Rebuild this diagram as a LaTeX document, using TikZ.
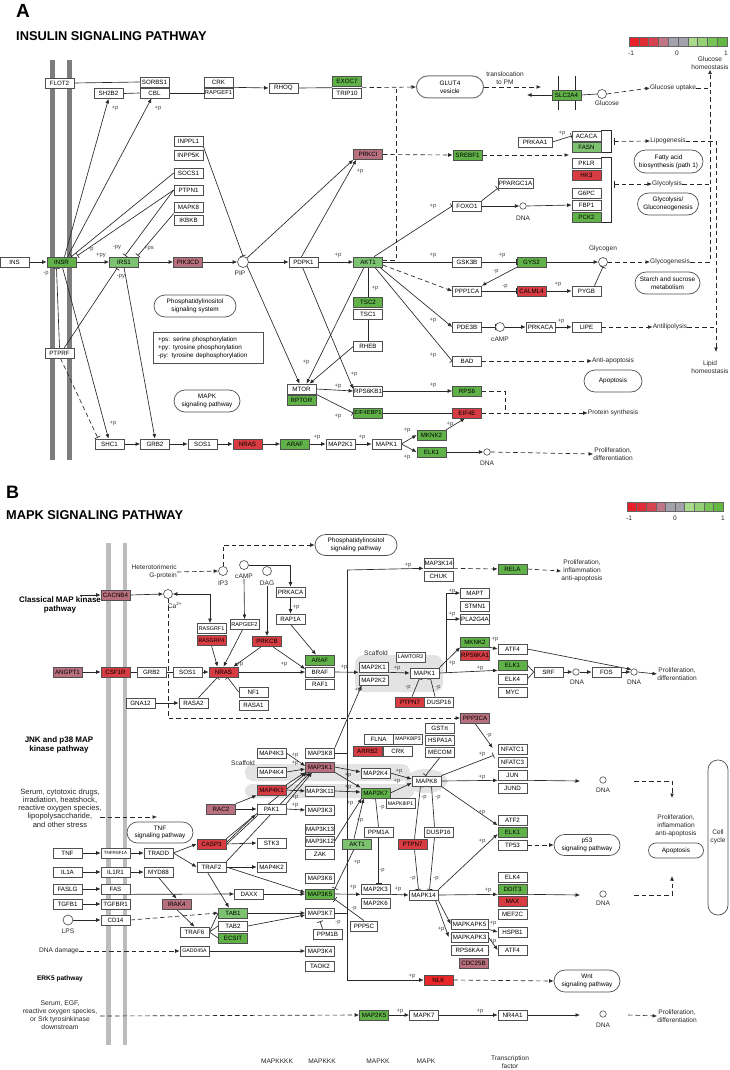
\documentclass[tikz,border=0pt]{standalone}
\usepackage{fontspec}
\setmainfont{Liberation Sans}
\usetikzlibrary{arrows.meta,shapes.misc,calc}
\pgfdeclarelayer{blob}\pgfdeclarelayer{bgl}
\pgfsetlayers{blob,bgl,main}
\definecolor{gD}{RGB}{96,178,72}
\definecolor{gL}{RGB}{124,194,112}
\definecolor{rM}{RGB}{214,60,66}
\definecolor{rB}{RGB}{232,40,40}
\definecolor{mV}{RGB}{184,112,126}
\definecolor{memA}{RGB}{125,125,125}
\definecolor{memB}{RGB}{188,188,188}
\definecolor{lnc}{RGB}{40,40,40}
\definecolor{bdc}{RGB}{80,80,80}
\definecolor{lgA}{RGB}{232,32,42}
\definecolor{lgB}{RGB}{224,44,54}
\definecolor{lgC}{RGB}{214,66,80}
\definecolor{lgD}{RGB}{192,118,132}
\definecolor{lgE}{RGB}{162,162,172}
\definecolor{lgG}{RGB}{170,218,140}
\definecolor{lgH}{RGB}{150,208,118}
\definecolor{lgI}{RGB}{118,194,84}
\definecolor{lgJ}{RGB}{98,184,64}
\newcommand{\plab}[3]{\node[pp] (#1) at (#2) {#3};}
\tikzset{
 box/.style={draw=bdc,line width=0.65pt,fill=white,minimum width=29pt,minimum height=10pt,inner sep=0pt,font=\fontsize{6.2}{7}\selectfont},
 bgD/.style={box,fill=gD}, bgL/.style={box,fill=gL}, bR/.style={box,fill=rM}, bM/.style={box,fill=mV}, bRB/.style={box,fill=rB},
 sm/.style={font=\fontsize{5.4}{6}\selectfont},
 tiny/.style={font=\fontsize{4.5}{5}\selectfont},
 txt/.style={font=\fontsize{6.6}{8}\selectfont,inner sep=0pt,align=center,text=black!85},
 pp/.style={font=\fontsize{5.8}{6}\selectfont,inner sep=0pt,text=black!75},
 cir/.style={circle,draw=bdc,line width=0.65pt,fill=white,minimum size=9pt,inner sep=0pt},
 dnac/.style={circle,draw=bdc,line width=0.6pt,fill=white,minimum size=6.5pt,inner sep=0pt},
 pw/.style={rounded rectangle,draw=bdc,line width=0.7pt,fill=white,inner sep=0pt,align=center,font=\fontsize{6.4}{7.8}\selectfont},
 ln/.style={draw=lnc,line width=0.65pt},
 arr/.style={ln,-{Latex[length=4.5pt,width=3.8pt]}},
 biarr/.style={ln,{Latex[length=4.5pt,width=3.8pt]}-{Latex[length=4.5pt,width=3.8pt]}},
 inh/.style={ln,-{Bar[width=6pt]}},
 dsh/.style={dash pattern=on 4.5pt off 3pt},
 darr/.style={arr,dsh},
 dln/.style={ln,dsh},
 dinh/.style={inh,dsh},
}
\begin{document}
\begin{tikzpicture}[x=1pt,y=-1pt]
\useasboundingbox (0,0) rectangle (730,1070);
\begin{pgfonlayer}{blob}
\fill[white] (0,0) rectangle (730,1070);
\end{pgfonlayer}
% ================= PANEL A =================
\node[font=\fontsize{19}{19}\selectfont\bfseries,anchor=west,inner sep=0] (tA) at (16,11) {A};
\node[font=\fontsize{12.8}{13}\selectfont\bfseries,anchor=west,inner sep=0] (ttA) at (16,36) {INSULIN SIGNALING PATHWAY};
\begin{pgfonlayer}{blob}
\fill[memA] (50,60) rectangle (54.5,460);
\fill[memA] (67,60) rectangle (71.5,460);
\end{pgfonlayer}
\foreach \c [count=\i from 0] in {lgA,lgB,lgC,lgD,lgE,lgE,lgG,lgH,lgI,lgJ}
  \draw[draw=black!60,line width=0.4pt,fill=\c] ({629+\i*9.8},37) rectangle ({629+(\i+1)*9.8},46);
\node[txt] (aLg1) at (631,53) {-1};
\node[txt] (aLg2) at (677,53) {0};
\node[txt] (aLg3) at (726,53) {1};

\node[box] (aFLOT2) at (59.5,83) {FLOT2};
\node[box] (aSORBS1) at (154.5,82) {SORBS1};
\node[box] (aCBL) at (154.5,93) {CBL};
\node[box] (aSH2B2) at (108.5,93.5) {SH2B2};
\node[box] (aCRK) at (218.5,82) {CRK};
\node[box,font=\fontsize{5.8}{6}\selectfont] (aRAPGEF1) at (218.5,93) {RAPGEF1};
\node[box] (aRHOQ) at (283.5,88) {RHOQ};
\node[bgD] (aEXOC7) at (347,81) {EXOC7};
\node[box] (aTRIP10) at (347,93) {TRIP10};
\node[pw,minimum width=67pt,minimum height=22pt,draw=black!55,line width=1pt] (aGLUT) at (450,87) {GLUT4\\vesicle};
\node[txt] (aTPM) at (505,78) {translocation\\to PM};
\node[bgD] (aSLC) at (566.5,95) {SLC2A4};
\node[cir] (aGlc) at (602,94) {};
\node[txt] (aGlcL) at (607,103) {Glucose};
\node[txt] (aGU) at (673,88) {Glucose uptake};
\node[txt] (aGH) at (710,63) {Glucose\\homeostasis};

\node[box] (aINPPL1) at (188.5,141) {INPPL1};
\node[box] (aINPP5K) at (188.5,155) {INPP5K};
\node[box] (aSOCS1) at (188.5,173) {SOCS1};
\node[box] (aPTPN1) at (188.5,190) {PTPN1};
\node[box] (aMAPK8) at (188.5,207) {MAPK8};
\node[box] (aIKBKB) at (188.5,220) {IKBKB};
\node[bM] (aPRKCI) at (368,154.5) {PRKCI};
\node[bgD] (aSREBF1) at (467.5,155) {SREBF1};
\node[box,minimum width=34pt] (aPRKAA1) at (535,142) {PRKAA1};
\node[box] (aACACA) at (586.5,136) {ACACA};
\node[bgL] (aFASN) at (586.5,147) {FASN};
\node[box] (aPKLR) at (586.5,163) {PKLR};
\node[bR] (aHK3) at (586.5,175) {HK3};
\node[box] (aG6PC) at (586.5,193) {G6PC};
\node[box] (aFBP1) at (586.5,205) {FBP1};
\node[bgD] (aPCK2) at (586.5,217) {PCK2};
\node[txt] (aLipo) at (668,141) {Lipogenesis};
\node[txt] (aGlyc) at (667,184) {Glycolysis};
\node[pw,minimum width=69pt,minimum height=23pt] (aFAB) at (668.5,161.5) {Fatty acid\\biosynthesis (path 1)};
\node[pw,minimum width=61pt,minimum height=22pt] (aGG2) at (668,204) {Glycolysis/\\Gluconeogenesis};
\node[box,minimum width=35pt] (aPPARGC1A) at (515.5,183) {PPARGC1A};
\node[box] (aFOXO1) at (467,206) {FOXO1};
\node[dnac] (aDNA1) at (523,206) {};
\node[txt] (aDNA1L) at (523,218) {DNA};

\node[box] (aINS) at (14.5,262) {INS};
\node[bgD] (aINSR) at (61.5,262) {INSR};
\node[bgL] (aIRS1) at (124,262) {IRS1};
\node[bM] (aPIK3CD) at (188,262) {PIK3CD};
\node[cir,minimum size=11pt] (aPIP) at (243,262) {};
\node[txt] (aPIPL) at (240,273) {PIP};
\node[box] (aPDPK1) at (303.5,262) {PDPK1};
\node[bgL] (aAKT1) at (368,262) {AKT1};
\node[box] (aGSK3B) at (467,262) {GSK3B};
\node[bgD] (aGYS2) at (531.5,262) {GYS2};
\node[cir] (aGlyg) at (603,262) {};
\node[txt] (aGlygL) at (603,249) {Glycogen};
\node[txt] (aGG) at (670,262) {Glycogenesis};
\node[box] (aPPP1CA) at (467,291) {PPP1CA};
\node[bR] (aCALML4) at (531.5,291) {CALML4};
\node[box] (aPYGB) at (586.5,291) {PYGB};
\node[pw,minimum width=65pt,minimum height=22pt] (aSSM) at (667.5,283) {Starch and sucrose\\metabolism};
\node[bgD] (aTSC2) at (368,302.5) {TSC2};
\node[box] (aTSC1) at (368,314) {TSC1};
\node[pw,minimum width=82pt,minimum height=22pt] (aPSS) at (195,306) {Phosphatidylinositol\\signaling system};
\node[box] (aPDE3B) at (467,327) {PDE3B};
\node[cir] (acAMP) at (500,327) {};
\node[txt] (acAMPL) at (500,339) {cAMP};
\node[box] (aPRKACA) at (540.5,327) {PRKACA};
\node[box] (aLIPE) at (586.5,327) {LIPE};
\node[txt] (aAL) at (670,327) {Antilipolysis};
\node[draw=bdc,line width=0.65pt,fill=white,inner xsep=5pt,inner ysep=3pt,text width=100pt,minimum height=31pt,align=left,font=\fontsize{6.3}{8}\selectfont] (aLEG) at (208,347.5) {+ps: serine phosphorylation\\+py: tyrosine phosphorylation\\-py: tyrosine dephosphorylation};
\node[box] (aRHEB) at (368,346.5) {RHEB};
\node[box] (aPTPRF) at (59.5,353) {PTPRF};
\node[box] (aBAD) at (467,361) {BAD};
\node[txt] (aAA) at (613,361) {Anti-apoptosis};
\node[txt] (aLH) at (710,367) {Lipid\\homeostasis};
\node[pw,minimum width=58pt,minimum height=22pt] (aAPO) at (613,381) {Apoptosis};
\node[box] (aMTOR) at (301.5,389) {MTOR};
\node[bgD] (aRPTOR) at (301.5,400) {RPTOR};
\node[box] (aRPS6KB1) at (368,391) {RPS6KB1};
\node[bgD] (aRPS6) at (467,391) {RPS6};
\node[pw,minimum width=66pt,minimum height=22pt] (aMSP) at (207,401) {MAPK\\signaling pathway};
\node[bgD,font=\fontsize{5.8}{6}\selectfont] (aEIF4EBP1) at (368,413) {EIF4EBP1};
\node[bR] (aEIF4E) at (467,413) {EIF4E};
\node[txt] (aPS) at (613,413) {Protein synthesis};
\node[bgD] (aMKNK2) at (431.5,435) {MKNK2};
\node[box] (aSHC1) at (109.5,444) {SHC1};
\node[box] (aGRB2) at (155,444) {GRB2};
\node[box] (aSOS1) at (202.5,444) {SOS1};
\node[bR] (aNRAS) at (247.5,444) {NRAS};
\node[bgD] (aARAF) at (295,444) {ARAF};
\node[box] (aMAP2K1) at (340.5,444) {MAP2K1};
\node[box] (aMAPK1) at (386.5,444) {MAPK1};
\node[bgD] (aELK1) at (431.5,452) {ELK1};
\node[dnac] (aDNA2) at (487,452) {};
\node[txt] (aDNA2L) at (487,463) {DNA};
\node[txt] (aPD) at (613,454) {Proliferation,\\differentiation};

\plab{pa1}{115,108}{+p}\plab{pa2}{158,108}{+p}\plab{pa3}{91,250}{-p}\plab{pa4}{101,255}{+py}
\plab{pa5}{117,248}{-py}\plab{pa6}{149,248}{+ps}\plab{pa7}{46,274}{-p}\plab{pa8}{121,277}{-py}
\plab{pa9}{113,423}{+p}\plab{pa10}{338,255}{+p}\plab{pa11}{360,171}{+p}\plab{pa12}{433,255}{+p}
\plab{pa13}{502,255}{+p}\plab{pa14}{496,272}{-p}\plab{pa15}{505,287}{-p}\plab{pa16}{558,284}{+p}
\plab{pa17}{433,206}{+p}\plab{pa18}{562,133}{+p}\plab{pa19}{375,288}{+p}\plab{pa20}{433,320}{+p}
\plab{pa21}{433,355}{+p}\plab{pa22}{561,321}{+p}\plab{pa23}{306,362}{+p}\plab{pa24}{354,374}{+p}
\plab{pa25}{338,386}{+p}\plab{pa26}{338,416}{+p}\plab{pa27}{433,385}{+p}\plab{pa28}{317,437}{+p}
\plab{pa29}{362,437}{+p}\plab{pa30}{407,430}{+p}\plab{pa31}{450,424}{+p}\plab{pa32}{407,457}{+p}

\coordinate (aj1) at (396,87);
\coordinate (aTL) at (541,87);
\coordinate (aSLCo) at (527,95);
\coordinate (aS1) at (569,155);
\coordinate (aPSj) at (505,413);

\begin{pgfonlayer}{bgl}
\draw[ln] (558,76) -- (558,110);
\draw[ln] (575,76) -- (575,110);
\draw[ln] (aFLOT2.east) -- (aSORBS1.west);
\draw[ln] (aSH2B2.east) -- (aCBL.west);
\draw[ln] (aCBL.east) -- (aRAPGEF1.west);
\draw[arr] (aCRK.south east) -- (aRHOQ.west);
\draw[ln] (aRHOQ.east) -- (aTRIP10.north west);
\draw[darr] (aTRIP10.north east) -- (aGLUT.west);
\draw[dln] ($(aAKT1.east)+(0,-2)$) -| (aj1);
\draw[darr] (aGLUT.east) -- (aTL);
\draw[arr] (aSLC.west) -- (aSLCo);
\draw[ln] (aSLC.east) -- (aGlc.west);
\draw[darr] (aGlc.east) -- (aGU.west);
\draw[dln] (aGU.east) -- (aGU.east -| aGH.south);
\draw[darr] (aGG.east) -| (aGH.south);
\draw[dln] (aGlyc.east) -- (aGlyc.east -| aGH.south);
\draw[darr] (aLipo.east) -| (716,352);
\draw[dln] (aAL.east) -- (716,327);
\draw[darr] (aPRKCI.east) -- (aSREBF1.west);
\draw[darr] (aSREBF1.east) -- (aS1);
\draw[inh] (aPRKAA1.east) -- (aACACA.west);
\draw[ln] (aACACA.north east) -- ++(10,0) |- (aFASN.south east);
\draw[darr] (614,141.5) -- (aLipo.west);
\draw[ln] (614,138) -- (614,145);
\draw[ln] (aPKLR.north east) -- ++(10,0) |- (aPCK2.south east);
\draw[darr] (614,184) -- (aGlyc.west);
\draw[ln] (614,180.5) -- (614,187.5);
\draw[arr] (aFOXO1.east) -- (aDNA1.west);
\draw[arr] (aDNA1.east) -- (aFBP1.west);
\draw[inh] (aFOXO1.north east) -- (aPPARGC1A.south west);
\draw[inh] ($(aAKT1.north)+(6,0)$) -- (aFOXO1.west);
\draw[arr] (aINS.east) -- (aINSR.west);
\draw[arr] (aINSR.east) -- (aIRS1.west);
\draw[arr] (aIRS1.east) -- (aPIK3CD.west);
\draw[arr] (aPIK3CD.east) -- (aPIP.west);
\draw[arr] (aPIP.east) -- (aPDPK1.west);
\draw[arr] (aPDPK1.east) -- (aAKT1.west);
\draw[inh] (aAKT1.east) -- (aGSK3B.west);
\draw[inh] (aGSK3B.east) -- (aGYS2.west);
\draw[arr] (aGYS2.east) -- (aGlyg.west);
\draw[darr] (aGlyg.east) -- (aGG.west);
\draw[arr] (aGYS2.south west) -- (aPPP1CA.north east);
\draw[inh] (aPPP1CA.east) -- (aCALML4.west);
\draw[arr] (aCALML4.east) -- (aPYGB.west);
\draw[inh] ($(aPYGB.north)+(8,0)$) -- (aGlyg.south);
\draw[darr] ($(aAKT1.east)+(0,3)$) -- (aPPP1CA.west);
\draw[arr] ($(aAKT1.south east)+(-3,0)$) -- (aPDE3B.west);
\draw[inh] ($(aAKT1.south east)+(-8,0)$) -- (aBAD.west);
\draw[inh] (aAKT1.south) -- (aTSC2.north);
\draw[inh] (aTSC1.south) -- (aRHEB.north);
\draw[inh] (aPDE3B.east) -- (acAMP.west);
\draw[arr] (acAMP.east) -- (aPRKACA.west);
\draw[arr] (aPRKACA.east) -- (aLIPE.west);
\draw[darr] (aLIPE.east) -- (aAL.west);
\draw[darr] (aBAD.east) -- (aAA.west);
\draw[arr] (aRHEB.west) -- ($(aMTOR.north)+(8,0)$);
\draw[arr] ($(aAKT1.south)+(-4,0)$) -- ($(aMTOR.north)+(5,0)$);
\draw[arr] (aPIP.south east) -- ($(aMTOR.north)+(-2,0)$);
\draw[arr] ($(aPDPK1.south)+(-1,0)$) -- ($(aRPS6KB1.west)+(0,-2)$);
\draw[arr] (aPIP.north east) -- (aPRKCI.south west);
\draw[arr] ($(aPDPK1.north)+(-2,0)$) -- ($(aPRKCI.south west)+(3,0)$);
\draw[inh] (aINPPL1.south east) -- (aPIP.north);
\draw[arr] (aMTOR.east) -- (aRPS6KB1.west);
\draw[inh] (aMTOR.south east) -- (aEIF4EBP1.west);
\draw[arr] (aRPS6KB1.east) -- (aRPS6.west);
\draw[inh] (aEIF4EBP1.east) -- (aEIF4E.west);
\draw[dln] (aRPS6.east) -| (aPSj);
\draw[darr] (aEIF4E.east) -- (aPS.west);
\draw[arr] (aSHC1.east) -- (aGRB2.west);
\draw[arr] (aGRB2.east) -- (aSOS1.west);
\draw[arr] (aSOS1.east) -- (aNRAS.west);
\draw[arr] (aNRAS.east) -- (aARAF.west);
\draw[arr] (aARAF.east) -- (aMAP2K1.west);
\draw[arr] (aMAP2K1.east) -- (aMAPK1.west);
\draw[arr] (aMAPK1.east) -- (aMKNK2.west);
\draw[arr] (aMAPK1.east) -- (aELK1.west);
\draw[arr] (aMKNK2.north east) -- ($(aEIF4E.south)+(-2,0)$);
\draw[arr] (aELK1.east) -- (aDNA2.west);
\draw[darr] (aDNA2.east) -- (aPD.west);
\draw[arr] ($(aINSR.north)+(3,0)$) -- (aSH2B2.south);
\draw[arr] ($(aINSR.north)+(6,0)$) -- ($(aCBL.south)+(-3,0)$);
\draw[inh] (aSOCS1.west) -- ($(aINSR.north east)+(-5,0)$);
\draw[inh] (aPTPN1.west) -- ($(aINSR.north east)+(1,-1)$);
\draw[inh] (aPTPN1.west) -- ($(aIRS1.north)+(1,-1)$);
\draw[inh] ($(aMAPK8.south west)!0.5!(aIKBKB.north west)$) -- ($(aIRS1.north east)+(-1,-1)$);
\draw[inh] (aPTPRF.north) -- ($(aINSR.south)+(-5,1)$);
\draw[inh] ($(aPTPRF.north east)+(-10,0)$) -- ($(aIRS1.south)+(-7,1)$);
\draw[arr] ($(aINSR.south)+(1,0)$) -- ($(aSHC1.north)+(-1,0)$);
\draw[dinh] ($(aPTPRF.south)+(1,0)$) -- ($(aSHC1.north west)+(3,-1)$);
\draw[arr] (aIRS1.south) -- (aGRB2.north);
\end{pgfonlayer}

% ================= PANEL B =================
\node[font=\fontsize{18}{18}\selectfont\bfseries,anchor=west,inner sep=0] (tB) at (6,492) {B};
\node[font=\fontsize{12.8}{13}\selectfont\bfseries,anchor=west,inner sep=0] (ttB) at (6,515) {MAPK SIGNALING PATHWAY};
\begin{pgfonlayer}{blob}
\fill[memB] (106,543) rectangle (110.5,1045);
\fill[memB] (122.5,543) rectangle (127,1045);
\fill[gray!22,rounded corners=9pt] (355,655) rectangle (443,692);
\fill[gray!22,rounded corners=8pt] (245,764) rectangle (410,781);
\fill[gray!22] (426,781) ellipse (21pt and 12pt);
\fill[gray!22,rounded corners=7pt] (245,784) rectangle (414,798);
\end{pgfonlayer}
\foreach \c [count=\i from 0] in {lgA,lgB,lgC,lgD,lgE,lgE,lgG,lgH,lgI,lgJ}
  \draw[draw=black!60,line width=0.4pt,fill=\c] ({627+\i*9.6},502) rectangle ({627+(\i+1)*9.6},511);
\node[txt] (bLg1) at (629,518) {-1};
\node[txt] (bLg2) at (675,518) {0};
\node[txt] (bLg3) at (723,518) {1};

\node[pw,minimum width=82pt,minimum height=21pt] (bPSP) at (356,545) {Phosphatidylinositol\\signaling pathway};
\node[txt,anchor=east,align=right] (bHG) at (177,572) {Heterotorimeric\\G-protein};
\node[cir] (bIP3) at (223,571) {};
\node[txt] (bIP3L) at (223,583) {IP3};
\node[cir] (bcAMP) at (244,565) {};
\node[txt] (bcAMPL) at (244,576) {cAMP};
\node[cir] (bDAG) at (267,571) {};
\node[txt] (bDAGL) at (267,583) {DAG};
\node[bM] (bCACNB4) at (115.5,595) {CACNB4};
\node[font=\fontsize{8}{9.2}\selectfont\bfseries,align=center,inner sep=0] (bCMK) at (60,605) {Classical MAP kinase\\pathway};
\node[cir] (bCa) at (168,594) {};
\node[txt] (bCaL) at (175,605) {Ca\textsuperscript{2+}};
\node[box] (bPRKACA) at (290.5,592) {PRKACA};
\node[box] (bRAP1A) at (290.5,619) {RAP1A};
\node[box,font=\fontsize{5.6}{6}\selectfont] (bRAPGEF2) at (244.5,624.5) {RAPGEF2};
\node[box,sm] (bRASGRF1) at (211.5,628.5) {RASGRF1};
\node[bR,sm] (bRASGRP4) at (211.5,640.5) {RASGRP4};
\node[bR] (bPRKCB) at (267,641.5) {PRKCB};
\node[bgD] (bARAF) at (320,660) {ARAF};
\node[box] (bBRAF) at (320,672) {BRAF};
\node[box] (bRAF1) at (320,684) {RAF1};
\node[bM] (bANGPT1) at (67.5,672) {ANGPT1};
\node[bR] (bCSF1R) at (115.5,672) {CSF1R};
\node[box] (bGRB2) at (151.5,672) {GRB2};
\node[box] (bSOS1) at (187.5,672) {SOS1};
\node[bR] (bNRAS) at (223.5,672) {NRAS};
\node[box] (bNF1) at (253.5,692) {NF1};
\node[box] (bRASA1) at (253.5,705) {RASA1};
\node[box] (bRASA2) at (193.5,703) {RASA2};
\node[box] (bGNA12) at (140.5,703) {GNA12};
\node[box] (bMAP3K14) at (438.5,563) {MAP3K14};
\node[box] (bCHUK) at (438.5,576) {CHUK};
\node[bgD] (bRELA) at (512.5,569) {RELA};
\node[txt] (bPIA) at (582,571) {Proliferation,\\inflammation\\anti-apoptosis};
\node[box] (bMAPT) at (475,593) {MAPT};
\node[box] (bSTMN1) at (475,606) {STMN1};
\node[box] (bPLA2G4A) at (475,619) {PLA2G4A};
\node[bgD] (bMKNK2) at (475,642) {MKNK2};
\node[bR] (bRPS6KA1) at (475,655) {RPS6KA1};
\node[box] (bATF4) at (512.5,649) {ATF4};
\node[bgD] (bELK1) at (512.5,665) {ELK1};
\node[box] (bELK4) at (512.5,679) {ELK4};
\node[box] (bMYC) at (512.5,692) {MYC};
\node[box] (bSRF) at (548.5,672) {SRF};
\node[dnac] (bDNA1) at (576,672) {};
\node[txt] (bDNA1L) at (577,682) {DNA};
\node[box] (bFOS) at (606.5,672) {FOS};
\node[dnac] (bDNA2) at (634,672) {};
\node[txt] (bDNA2L) at (634,682) {DNA};
\node[txt] (bPD1) at (677,674) {Proliferation,\\differentiation};
\node[txt] (bScf1) at (376,653) {Scaffold};
\node[box] (bMAP2K1) at (373.5,667) {MAP2K1};
\node[box] (bMAP2K2) at (373.5,680) {MAP2K2};
\node[box,sm] (bLAMTOR3) at (410.5,657) {LAMTOR3};
\node[box] (bMAPK1) at (424.5,673) {MAPK1};
\node[bR] (bPTPN7) at (410,702) {PTPN7};
\node[box] (bDUSP16) at (439,702) {DUSP16};
\node[bM] (bPPP3CA) at (475,718) {PPP3CA};
\node[box] (bGST) at (440,728) {GSTπ};
\node[box] (bHSPA1A) at (440,740) {HSPA1A};
\node[box] (bMECOM) at (440,752) {MECOM};
\node[box] (bFLNA) at (378.5,739) {FLNA};
\node[box,font=\fontsize{5.2}{6}\selectfont] (bMAPK8IP3) at (408,739) {MAPK8IP3};
\node[bR] (bARRB2) at (367.5,751) {ARRB2};
\node[box] (bCRK) at (398,751) {CRK};
\node[box] (bNFATC1) at (512.5,749) {NFATC1};
\node[box] (bNFATC3) at (512.5,762) {NFATC3};
\node[box] (bJUN) at (512.5,775) {JUN};
\node[box] (bJUND) at (512.5,788) {JUND};
\node[box] (bMAPK8) at (426.5,781) {MAPK8};
\node[dnac] (bDNA3) at (603,780) {};
\node[txt] (bDNA3L) at (603,790) {DNA};
\node[txt] (bScf2) at (243,763) {Scaffold};
\node[box] (bMAP4K3) at (271.5,753) {MAP4K3};
\node[box] (bMAP4K4) at (271.5,772) {MAP4K4};
\node[bR] (bMAP4K1) at (271.5,790) {MAP4K1};
\node[box] (bPAK1) at (271.5,809) {PAK1};
\node[box] (bSTK3) at (271.5,843) {STK3};
\node[box] (bMAP4K2) at (271.5,867) {MAP4K2};
\node[bM] (bRAC2) at (221,809) {RAC2};
\node[box] (bMAP3K8) at (320,753) {MAP3K8};
\node[bM] (bMAP3K1) at (320,767) {MAP3K1};
\node[box] (bMAP3K11) at (320,791) {MAP3K11};
\node[box] (bMAP3K3) at (320,810) {MAP3K3};
\node[box] (bMAP3K13) at (320,829) {MAP3K13};
\node[box] (bMAP3K12) at (320,841) {MAP3K12};
\node[box] (bZAK) at (320,854) {ZAK};
\node[box] (bMAP3K6) at (320,878) {MAP3K6};
\node[bgD] (bMAP3K5) at (320,894) {MAP3K5};
\node[box] (bMAP3K7) at (320,913) {MAP3K7};
\node[box] (bMAP3K4) at (320,951) {MAP3K4};
\node[box] (bTAOK2) at (320,966) {TAOK2};
\node[box] (bMAP2K4) at (375.5,773) {MAP2K4};
\node[bgD] (bMAP2K7) at (375.5,793) {MAP2K7};
\node[box,font=\fontsize{5.2}{6}\selectfont] (bMAPK8IP1) at (400.5,803.5) {MAPK8IP1};
\node[box] (bPPM1A) at (378.5,832) {PPM1A};
\node[box] (bDUSP16b) at (438.5,832) {DUSP16};
\node[bR] (bPTPN7b) at (412.5,844) {PTPN7};
\node[bgL] (bAKT1) at (357,844) {AKT1};
\node[box] (bATF2) at (512.5,820) {ATF2};
\node[bgD] (bELK1b) at (512.5,832) {ELK1};
\node[box] (bTP53) at (512.5,845) {TP53};
\node[pw,minimum width=66pt,minimum height=21pt] (bP53) at (587,845) {p53\\signaling pathway};
\node[txt] (bPIA2) at (676,826) {Proliferation,\\inflammation\\anti-apoptosis};
\node[pw,minimum width=55pt,minimum height=15pt] (bAPO) at (676,850.5) {Apoptosis};
\node[draw=bdc,line width=0.7pt,rounded corners=9.8pt,minimum width=20pt,minimum height=155pt,inner sep=0pt] (bCC) at (718,837.5) {};
\node[txt] (bCCL) at (718,837) {Cell\\cycle};
\node[font=\fontsize{8}{9.2}\selectfont\bfseries,align=center,inner sep=0] (bJNK) at (59,745) {JNK and p38 MAP\\kinase pathway};
\node[txt,font=\fontsize{7.6}{8.2}\selectfont] (bSER) at (60,808) {Serum, cytotoxic drugs,\\irradiation, heatshock,\\reactive oxygen species,\\lipopolysaccharide,\\and other stress};
\node[pw,minimum width=66pt,minimum height=21pt] (bTNFP) at (160,832.5) {TNF\\signaling pathway};
\node[box] (bTNF) at (67.5,853) {TNF};
\node[box,tiny] (bTNFRSF1A) at (115.5,853) {TNFRSF1A};
\node[box] (bTRADD) at (158.5,853) {TRADD};
\node[box] (bIL1A) at (67.5,872) {IL1A};
\node[box] (bIL1R1) at (115.5,872) {IL1R1};
\node[box] (bMYD88) at (158.5,872) {MYD88};
\node[box] (bFASLG) at (67.5,889) {FASLG};
\node[box] (bFAS) at (115.5,889) {FAS};
\node[box] (bTGFB1) at (67.5,904) {TGFB1};
\node[box] (bTGFBR1) at (115.5,904) {TGFBR1};
\node[cir,minimum size=10pt] (bLPS) at (68,920) {};
\node[txt] (bLPSL) at (68,931) {LPS};
\node[box] (bCD14) at (115.5,920) {CD14};
\node[bR] (bCASP3) at (211.5,844) {CASP3};
\node[box] (bTRAF2) at (211.5,867) {TRAF2};
\node[box] (bDAXX) at (249,894) {DAXX};
\node[bM] (bIRAK4) at (176.5,904) {IRAK4};
\node[bgL] (bTAB1) at (233,913) {TAB1};
\node[box] (bTAB2) at (233,926) {TAB2};
\node[bgD] (bECSIT) at (233,938) {ECSIT};
\node[box] (bTRAF6) at (194.5,932) {TRAF6};
\node[box] (bPPM1B) at (327.5,934) {PPM1B};
\node[box] (bMAP2K3) at (375.5,889) {MAP2K3};
\node[box] (bMAP2K6) at (375.5,903.5) {MAP2K6};
\node[box,minimum width=27pt] (bPPP5C) at (364,926) {PPP5C};
\node[box] (bMAPK14) at (423.5,895) {MAPK14};
\node[box] (bELK4b) at (512.5,877) {ELK4};
\node[bgD] (bDDIT3) at (512.5,889) {DDIT3};
\node[bR] (bMAX) at (512.5,901) {MAX};
\node[box] (bMEF2C) at (512.5,914) {MEF2C};
\node[dnac] (bDNA4) at (603,894) {};
\node[txt] (bDNA4L) at (603,903) {DNA};
\node[box,minimum width=37pt] (bMAPKAPK5) at (469.5,924) {MAPKAPK5};
\node[box,minimum width=37pt] (bMAPKAPK3) at (469.5,937) {MAPKAPK3};
\node[box,minimum width=37pt] (bRPS6KA4) at (469.5,950) {RPS6KA4};
\node[bM] (bCDC25B) at (473.5,963.5) {CDC25B};
\node[box] (bHSPB1) at (512.5,932) {HSPB1};
\node[box] (bATF4b) at (512.5,950) {ATF4};
\node[box,font=\fontsize{5.2}{6}\selectfont] (bGADD45A) at (194.5,951) {GADD45A};
\node[txt] (bDD) at (59,951) {DNA damage};
\node[bRB] (bNLK) at (438.5,980) {NLK};
\node[pw,minimum width=66pt,minimum height=22pt] (bWNT) at (587,981) {Wnt\\signaling pathway};
\node[font=\fontsize{6.6}{7}\selectfont\bfseries,inner sep=0] (bERK5) at (60,979) {ERK5 pathway};
\node[txt,font=\fontsize{6.8}{8}\selectfont] (bSEGF) at (60,1015) {Serum, EGF,\\reactive oxygen species,\\or Srk tyrosinkinase\\downstream};
\node[bgD] (bMAP2K5) at (374,1015) {MAP2K5};
\node[box] (bMAPK7) at (424,1015) {MAPK7};
\node[box] (bNR4A1) at (512.5,1015) {NR4A1};
\node[dnac] (bDNA5) at (603,1014) {};
\node[txt] (bDNA5L) at (603,1025) {DNA};
\node[txt] (bPD2) at (677,1016) {Proliferation,\\differentiation};
\node[txt] (bL1) at (277,1061) {MAPKKKK};
\node[txt] (bL2) at (322,1061) {MAPKKK};
\node[txt] (bL3) at (378,1061) {MAPKK};
\node[txt] (bL4) at (426,1061) {MAPK};
\node[txt] (bL5) at (510,1062) {Transcription\\factor};

\plab{pb1}{296,607}{+p}\plab{pb2}{240,664}{+p}\plab{pb3}{284,664}{+p}\plab{pb4}{344,667}{+p}
\plab{pb5}{358,690}{+p}\plab{pb6}{408,565}{+p}\plab{pb7}{452,591}{+p}\plab{pb8}{452,614}{+p}
\plab{pb9}{495,639}{+p}\plab{pb10}{452,663}{+p}\plab{pb11}{480,668}{+p}\plab{pb12}{397,668}{+p}
\plab{pb13}{408,688}{-p}\plab{pb14}{438,688}{-p}\plab{pb15}{489,736}{-p}\plab{pb16}{482,754}{+p}
\plab{pb17}{399,771}{+p}\plab{pb18}{397,781}{+p}\plab{pb19}{482,777}{+p}\plab{pb20}{482,812}{+p}
\plab{pb21}{482,841}{+p}\plab{pb22}{424,798}{-p}\plab{pb23}{438,798}{-p}\plab{pb24}{382,808}{-p}
\plab{pb25}{382,871}{-p}\plab{pb26}{413,879}{-p}\plab{pb27}{436,879}{-p}\plab{pb28}{398,889}{+p}
\plab{pb29}{488,890}{+p}\plab{pb30}{441,929}{+p}\plab{pb31}{493,923}{+p}\plab{pb32}{493,941}{+p}
\plab{pb33}{412,976}{+p}\plab{pb34}{400,1011}{+p}\plab{pb35}{480,1011}{+p}\plab{pb36}{295,755}{+p}
\plab{pb37}{295,763}{+p}\plab{pb38}{295,797}{+p}\plab{pb39}{295,805}{+p}\plab{pb40}{348,775}{+p}
\plab{pb41}{348,787}{+p}\plab{pb42}{350,803}{+p}\plab{pb43}{360,820}{+p}\plab{pb44}{357,862}{+p}
\plab{pb45}{353,887}{+p}\plab{pb46}{354,909}{-p}\plab{pb47}{338,923}{-p}

\coordinate (bCin) at (80,595);
\coordinate (bVT) at (347,570);
\coordinate (bVB) at (347,980);
\coordinate (bA1) at (580,781);
\coordinate (bD1) at (634,781);
\coordinate (bD3) at (672,798);
\coordinate (bA2) at (580,895);
\coordinate (bD4) at (634,895);
\coordinate (bD5) at (672,876);
\coordinate (bA3) at (580,1015);
\coordinate (bD6) at (628,1015);
\coordinate (bS1) at (100,817);
\coordinate (bS2) at (157,817);
\coordinate (bS3) at (100,1016);

\begin{pgfonlayer}{bgl}
\draw[darr] (bHG.east) -- (bIP3.west);
\draw[darr] (bIP3.north) |- (bPSP.west);
\draw[arr] (bcAMP.east) -| (bPRKACA.north);
\draw[arr] (bcAMPL.south) -- (bRAPGEF2.north);
\draw[arr] (bDAGL.south) -- (bPRKCB.north);
\draw[arr] (bPRKACA.south) -- (bRAP1A.north);
\draw[arr] (bRAP1A.south) -- ($(bARAF.north)+(-4,0)$);
\draw[arr] (bCin) -- (bCACNB4.west);
\draw[arr] (bCACNB4.east) -- (bCa.west);
\draw[biarr] (bCa.east) -| ($(bRASGRF1.north)+(-1.5,0)$);
\draw[arr] (bRASGRP4.south) -- ($(bNRAS.north)+(-6,0)$);
\draw[arr] ($(bRAPGEF2.south)+(-2,0)$) -- (bNRAS.north);
\draw[arr] ($(bPRKCB.south)+(-6,0)$) -- ($(bNRAS.north east)+(-5,0)$);
\draw[arr] ($(bPRKCB.south)+(6,0)$) -- ($(bBRAF.west)+(0,-3)$);
\draw[arr] (bANGPT1.east) -- (bCSF1R.west);
\draw[ln] (bCSF1R.east) -- (bGRB2.west);
\draw[ln] (bGRB2.east) -- (bSOS1.west);
\draw[arr] (bSOS1.east) -- (bNRAS.west);
\draw[arr] (bNRAS.east) -- (bBRAF.west);
\draw[arr] (bBRAF.east) -- (bMAP2K1.south west);
\draw[inh] (bNF1.west) -- ($(bNRAS.south)+(4,0)$);
\draw[inh] ($(bRASA2.north)+(5,0)$) -- ($(bNRAS.south)+(-6,0)$);
\draw[arr] (bGNA12.east) -- (bRASA2.west);
\draw[darr] (bCa.south) |- (bPPP3CA.west);
\draw[ln] (bVT) -- (bVB);
\draw[arr] (bVT) -- (bMAP3K14.south west);
\draw[arr] (bVB) -- (bNLK.west);
\draw[ln] (bMAP3K8.east) -- (bMAP3K8.east -| bVT);
\draw[ln] (bMAP3K7.east) -- (bMAP3K7.east -| bVT);
\draw[arr] (bMAP3K8.north east) -- ($(bMAP2K2.south west)+(3,0)$);
\draw[arr] (bMAP2K1.south east) -- (bMAPK1.west);
\draw[arr] (bMAPK1.east) -- (bELK1.south west);
\draw[arr] ($(bMAPK1.east)+(7,0)$) |- (bMAPT.west);
\draw[arr] ($(bMAPK1.east)+(7,0)$) |- (bPLA2G4A.west);
\draw[arr] (bMAPK1.north east) -- (bMKNK2.south west);
\draw[arr] (bMKNK2.south east) -- (bATF4.west);
\draw[arr] (bATF4.east) -- (bDNA2.north west);
\draw[ln] (bELK1.east) -- (bSRF.west);
\draw[ln] (bELK4.east) -- (bSRF.west);
\draw[arr] (bSRF.east) -- (bDNA1.west);
\draw[arr] (bDNA1.east) -- (bFOS.west);
\draw[arr] (bFOS.east) -- (bDNA2.west);
\draw[arr] (bDNA2.east) -- (bPD1.west);
\draw[inh] ($(bPTPN7.north)+(2,0)$) -- ($(bMAPK1.south)+(-5,0)$);
\draw[inh] ($(bDUSP16.north)+(-4,0)$) -- ($(bMAPK1.south)+(6,0)$);
\draw[darr] (bMAP3K14.south east) -- (bRELA.west);
\draw[darr] (bRELA.east) -- (bPIA.west);
\draw[arr] (bPPP3CA.south) -- ($(bNFATC1.west)+(-5,-1)$);
\draw[inh] (bMAPK8.north east) -- ($(bNFATC1.south west)+(-4,1)$);
\draw[arr] (bMAPK8.east) -- (bJUN.south west);
\draw[arr] (bJUN.south east) -- (bA1);
\draw[darr] (bD1) -| (bD3);
\draw[arr] (bMAPK8.south east) -- (bATF2.south west);
\draw[darr] (bTP53.east) -- (bP53.west);
\draw[inh] (bMECOM.south) -- ($(bMAPK8.north)+(-1,0)$);
\draw[arr] (bMAP2K4.east) -- ($(bMAPK8.west)+(0,-2)$);
\draw[arr] (bMAP2K7.east) -- ($(bMAPK8.west)+(0,2)$);
\draw[inh] ($(bPTPN7b.north)+(2,0)$) -- ($(bMAPK8.south)+(-6,0)$);
\draw[inh] ($(bDUSP16b.north)+(-4,0)$) -- ($(bMAPK8.south)+(5,0)$);
\draw[inh] ($(bPTPN7b.south)+(2,0)$) -- ($(bMAPK14.north)+(-5,0)$);
\draw[inh] ($(bDUSP16b.south)+(-4,0)$) -- ($(bMAPK14.north)+(6,0)$);
\draw[inh] (bPPM1A.north) -- (bMAP2K7.south);
\draw[inh] (bPPM1A.south) -- ($(bMAP2K3.north)+(3,0)$);
\draw[arr] ($(bAKT1.north)+(-3,0)$) -- ($(bMAP2K7.south west)+(3,0)$);
\draw[arr] (bMAP3K12.east) -- ($(bMAP2K7.south west)+(1,0)$);
\draw[inh] ($(bAKT1.south)+(-3,0)$) -- (bMAP3K5.north east);
\draw[arr] (bMAP3K5.east) -- (bMAP2K3.south west);
\draw[arr] (bMAP2K3.south east) -- (bMAPK14.west);
\draw[inh] (bPPP5C.north) -- (bMAP3K5.south east);
\draw[inh] ($(bPPM1B.north)+(-5,0)$) -- ($(bMAP3K7.south)+(0,3)$);
\draw[arr] (bTAB1.east) -- (bMAP3K7.west);
\draw[arr] (bTAB2.east) -- ($(bMAP3K7.west)+(0,2)$);
\draw[ln] (bTRAF6.east) -- (bTAB1.west);
\draw[ln] (bTRAF6.east) -- (bTAB2.west);
\draw[ln] (bTRAF6.east) -- (bECSIT.west);
\draw[arr] (bIRAK4.south) -- (bTRAF6.north);
\draw[arr] (bMYD88.south) -- (bIRAK4.north);
\draw[darr] (bCD14.east) -- (bTAB1.west);
\draw[arr] (bFAS.south east) -- (bDAXX.west);
\draw[arr] (bDAXX.east) -- (bMAP3K5.west);
\draw[arr] (bTRAF2.east) -- ($(bMAP3K5.west)+(0,-1.5)$);
\draw[arr] (bTRAF2.east) -- (bMAP4K2.west);
\draw[arr] ($(bTRAF2.south)+(-4,0)$) -- ($(bTAB1.north)+(-4,0)$);
\draw[arr] (bTRADD.east) -- (bCASP3.west);
\draw[arr] (bTRADD.east) -- (bTRAF2.west);
\draw[arr] (bTNF.east) -- (bTNFRSF1A.west);
\draw[arr] (bTNFRSF1A.east) -- (bTRADD.west);
\draw[arr] (bIL1A.east) -- (bIL1R1.west);
\draw[arr] (bIL1R1.east) -- (bMYD88.west);
\draw[arr] (bFASLG.east) -- (bFAS.west);
\draw[arr] (bTGFB1.east) -- (bTGFBR1.west);
\draw[arr] (bLPS.east) -- (bCD14.west);
\draw[arr] (bCASP3.east) -- (bSTK3.west);
\draw[arr] ($(bCASP3.east)+(0,-1.5)$) -- ($(bPAK1.south west)+(-1,0)$);
\draw[ln] ($(bCASP3.east)+(0,0.5)$) -- ($(bPAK1.south west)+(1,1)$);
\draw[arr] (bCASP3.north east) -- ($(bMAP3K1.south west)+(2,0)$);
\draw[arr] (bTRAF2.north east) -- ($(bMAP3K1.south west)+(5,0)$);
\draw[arr] (bPAK1.north east) -- ($(bMAP3K1.south west)+(7,0)$);
\draw[arr] (bRAC2.east) -- (bPAK1.west);
\draw[arr] (bRAC2.north east) -- (bMAP4K1.south west);
\draw[arr] (bPAK1.east) -- (bMAP3K3.west);
\draw[arr] (bMAP4K3.east) -- ($(bMAP3K1.west)+(0,-1)$);
\draw[arr] (bMAP4K4.east) -- ($(bMAP3K1.west)+(0,2)$);
\draw[arr] (bMAP4K1.north east) -- (bMAP3K1.south west);
\draw[arr] (bMAP4K1.east) -- (bMAP3K11.west);
\draw[arr] (bMAP3K1.east) -- ($(bMAP2K4.west)+(0,-1)$);
\draw[arr] (bMAP3K1.south east) -- (bMAP2K7.north west);
\draw[arr] (bMAP3K11.east) -- ($(bMAP2K7.west)+(0,-1)$);
\draw[arr] (bMAPK14.east) -- (bDDIT3.south west);
\draw[arr] (bDDIT3.south east) -- (bA2);
\draw[darr] (bD4) -| (bD5);
\draw[arr] (bMAPK14.north east) -- ($(bELK1b.west)+(0,2)$);
\draw[arr] (bMAPK14.south east) -- (bMAPKAPK5.west);
\draw[arr] ($(bMAPK14.south east)+(-3,0)$) -- ($(bMAPKAPK3.west)+(-2,0)$);
\draw[arr] (bMAPKAPK5.south east) -- (bHSPB1.west);
\draw[arr] (bMAPKAPK3.east) -- (bATF4b.west);
\draw[arr] (bGADD45A.east) -- (bMAP3K4.west);
\draw[darr] (bDD.east) -- (bGADD45A.west);
\draw[darr] (bS1) -- (bS2);
\draw[darr] (bS3) -- (bMAP2K5.west);
\draw[arr] (bMAP2K5.east) -- (bMAPK7.west);
\draw[arr] (bMAPK7.east) -- (bNR4A1.west);
\draw[arr] (bNR4A1.east) -- (bA3);
\draw[darr] (bD6) -- (bPD2.west);
\draw[darr] (bNLK.east) -- (bWNT.west);
\end{pgfonlayer}
\end{tikzpicture}
\end{document}
